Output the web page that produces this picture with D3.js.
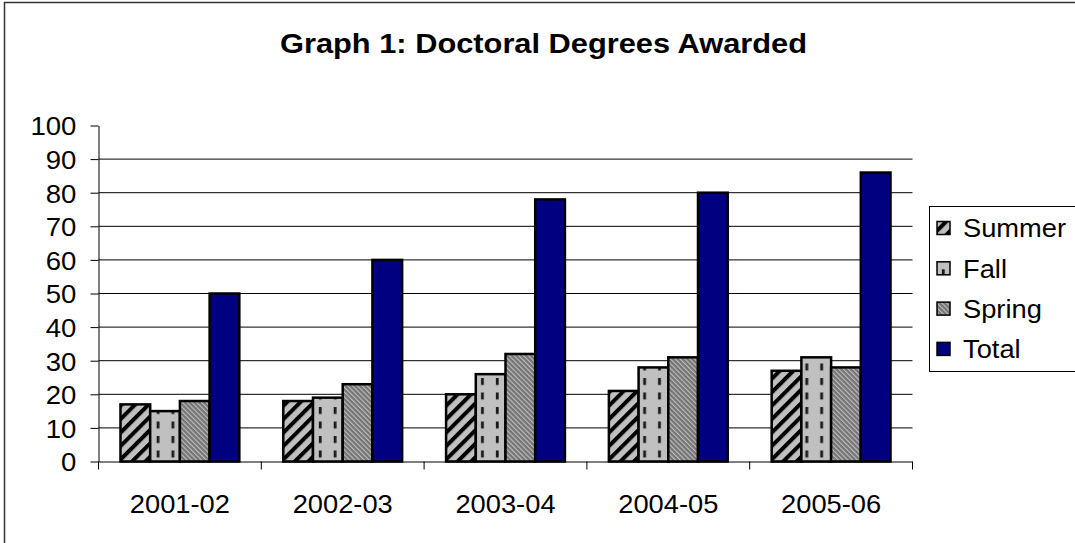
<!DOCTYPE html>
<html>
<head>
<meta charset="utf-8">
<script src="https://cdn.jsdelivr.net/npm/d3@7"></script>
<style>
  html, body { margin: 0; padding: 0; background: #fff; }
  svg { display: block; font-family: "Liberation Sans", Arial, sans-serif; }
</style>
</head>
<body>
<div id="chart"></div>
<script>
const categories = ['2001-02', '2002-03', '2003-04', '2004-05', '2005-06'];
const seriesNames = ['Summer', 'Fall', 'Spring', 'Total'];
const summer = [17, 18, 20, 21, 27];
const fall = [15, 19, 26, 28, 31];
const spring = [18, 23, 32, 31, 28];
const total = [50, 60, 78, 80, 86];
const yTicks = [0, 10, 20, 30, 40, 50, 60, 70, 80, 90, 100];
const titleText = 'Graph 1: Doctoral Degrees Awarded';

const seriesValues = [summer, fall, spring, total];

const W = 1075, H = 543;

const svg = d3.select('#chart').append('svg')
  .attr('width', W)
  .attr('height', H);

const x0 = d3.scaleBand()
  .domain(categories)
  .range([98.5, 912.5])
  .paddingInner(0.27)
  .paddingOuter(0.135);

const x1 = d3.scaleBand()
  .domain(seriesNames)
  .range([0, x0.bandwidth()]);

const y = d3.scaleLinear()
  .domain([0, 100])
  .range([461.5, 125.5]);

// patterns
const defs = svg.append('defs');

const pS = defs.append('pattern')
  .attr('id', 'pSummer')
  .attr('patternUnits', 'userSpaceOnUse')
  .attr('width', 9.5).attr('height', 9.5)
  .attr('patternTransform', 'rotate(45)');
pS.append('rect').attr('width', 9.5).attr('height', 9.5).attr('fill', '#c0c0c0');
pS.append('rect').attr('x', 0).attr('width', 4).attr('height', 9.5).attr('fill', '#000');

// fall: dashed vertical, two columns per bar, tile lined up with each bar
const fallTile = x1.bandwidth() / 2;
function fallPattern(id, x0pos, tw) {
  const p = defs.append('pattern')
    .attr('id', id)
    .attr('patternUnits', 'userSpaceOnUse')
    .attr('x', x0pos).attr('y', 0)
    .attr('width', tw).attr('height', 14.5);
  p.append('rect').attr('width', tw).attr('height', 14.5).attr('fill', '#c0c0c0');
  p.append('rect').attr('x', tw / 2 - 2.6).attr('y', 1).attr('width', 2.8).attr('height', 7).attr('fill', '#1a1a1a');
}
categories.forEach((c, i) => fallPattern('pFall' + i, x0(c) + x1('Fall'), fallTile));
fallPattern('pFallLeg', 937, 13);

const pP = defs.append('pattern')
  .attr('id', 'pSpring')
  .attr('patternUnits', 'userSpaceOnUse')
  .attr('width', 3.4).attr('height', 3.4)
  .attr('patternTransform', 'rotate(-45)');
pP.append('rect').attr('width', 3.4).attr('height', 3.4).attr('fill', '#767676');
pP.append('rect').attr('x', 0).attr('width', 1.1).attr('height', 3.4).attr('fill', '#bdbdbd');

function fillFor(k, i) {
  if (k === 0) return 'url(#pSummer)';
  if (k === 1) return i < 0 ? 'url(#pFallLeg)' : 'url(#pFall' + i + ')';
  if (k === 2) return 'url(#pSpring)';
  return '#000080';
}

// outer chart border (runs off the right and bottom)
svg.append('rect')
  .attr('x', 4.5).attr('y', 2.5)
  .attr('width', W + 50).attr('height', H + 50)
  .attr('fill', 'none')
  .attr('stroke', '#333')
  .attr('stroke-width', 1.5);

// title
svg.append('text')
  .attr('transform', 'translate(543.5,53) scale(1.1,1)')
  .attr('text-anchor', 'middle')
  .style('font-size', '28px')
  .style('font-weight', 'bold')
  .text(titleText);

// gridlines
svg.append('g')
  .selectAll('line')
  .data(yTicks.filter(t => t > 0 && t < 100))
  .enter().append('line')
  .attr('x1', 98.5).attr('x2', 912.5)
  .attr('y1', d => y(d)).attr('y2', d => y(d))
  .attr('stroke', '#000')
  .attr('stroke-width', 1);

// bars
const groups = svg.append('g')
  .selectAll('g')
  .data(categories)
  .enter().append('g')
  .attr('transform', d => 'translate(' + x0(d) + ',0)');

groups.selectAll('rect')
  .data((c, i) => seriesNames.map((s, k) => ({ s: s, k: k, i: i, v: seriesValues[k][i] })))
  .enter().append('rect')
  .attr('x', d => x1(d.s))
  .attr('width', x1.bandwidth())
  .attr('y', d => y(d.v))
  .attr('height', d => y(0) - y(d.v))
  .attr('fill', d => fillFor(d.k, d.i))
  .attr('stroke', '#000')
  .attr('stroke-width', 2.5);

// y axis
const yAxis = svg.append('g')
  .attr('transform', 'translate(98.5,0)')
  .call(d3.axisLeft(y).tickValues(yTicks).tickSize(8).tickPadding(12.5).tickSizeOuter(0));
yAxis.select('.domain').attr('stroke', '#000');
yAxis.selectAll('.tick line').attr('stroke', '#000');
yAxis.selectAll('.tick text')
  .attr('transform', 'scale(1.08,1)')
  .attr('dy', '0.37em')
  .attr('fill', '#000')
  .style('font-family', '"Liberation Sans", Arial, sans-serif')
  .style('font-size', '25.5px');

// x axis
const xAxis = svg.append('g')
  .attr('transform', 'translate(0,461.5)')
  .call(d3.axisBottom(x0).tickSize(0).tickPadding(33).tickSizeOuter(0));
xAxis.select('.domain').attr('stroke', '#000');
xAxis.selectAll('.tick text')
  .attr('transform', 'scale(1.05,1)')
  .attr('fill', '#000')
  .style('font-family', '"Liberation Sans", Arial, sans-serif')
  .style('font-size', '26px');

// category boundary ticks
const gap = (x0.step() - x0.bandwidth()) / 2;
const bounds = categories.map(c => x0(c) - gap).concat([x0(categories[categories.length - 1]) + x0.bandwidth() + gap]);
xAxis.selectAll('.bound')
  .data(bounds)
  .enter().append('line')
  .attr('class', 'bound')
  .attr('x1', d => d).attr('x2', d => d)
  .attr('y1', 0).attr('y2', 8)
  .attr('stroke', '#000');

// legend
const legend = svg.append('g');
legend.append('rect')
  .attr('x', 929.5).attr('y', 206.5)
  .attr('width', 200).attr('height', 165)
  .attr('fill', '#fff')
  .attr('stroke', '#000')
  .attr('stroke-width', 1);

const items = legend.selectAll('.item')
  .data(seriesNames)
  .enter().append('g')
  .attr('class', 'item')
  .attr('transform', (d, i) => 'translate(937,' + (228 + i * 40.3) + ')');

items.append('rect')
  .attr('x', 0).attr('y', -6.5)
  .attr('width', 13).attr('height', 13)
  .attr('fill', (d, k) => fillFor(k, -1))
  .attr('stroke', '#000')
  .attr('stroke-width', 1.5);

items.append('text')
  .attr('transform', 'translate(26,9.4) scale(1.05,1)')
  .style('font-size', '26px')
  .text(d => d);
</script>
</body>
</html>
